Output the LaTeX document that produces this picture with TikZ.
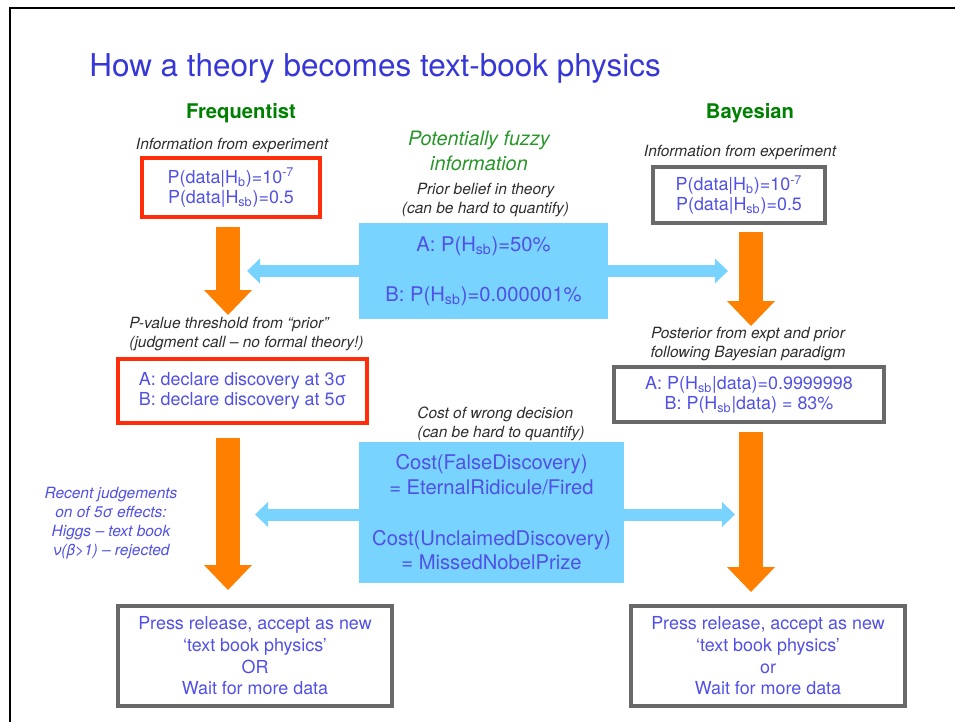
\documentclass[tikz,border=0pt]{standalone}
\usepackage{fontspec}
\setmainfont{TeX Gyre Heros}
\usetikzlibrary{arrows.meta}

\definecolor{titleblue}{RGB}{55,55,215}
\definecolor{textblue}{RGB}{80,80,230}
\definecolor{capgray}{RGB}{45,45,45}
\definecolor{headgreen}{RGB}{0,128,0}
\definecolor{fuzzygreen}{RGB}{40,150,40}
\definecolor{boxred}{RGB}{255,45,10}
\definecolor{boxgray}{RGB}{105,105,105}
\definecolor{skyfill}{RGB}{120,212,255}
\definecolor{arrorange}{RGB}{255,128,0}

\begin{document}
\begin{tikzpicture}[x=0.02cm, y=-0.02cm,
  title/.style={text=titleblue, inner sep=0pt, font=\fontsize{17.9}{20}\selectfont},
  head/.style={text=headgreen, inner sep=0pt, font=\fontsize{11.5}{13}\selectfont\bfseries},
  caption/.style={text=capgray, inner sep=0pt, align=center, font=\fontsize{8.8}{10.8}\selectfont\itshape},
  fuzzy/.style={text=fuzzygreen, inner sep=0pt, align=center, font=\fontsize{11.3}{14.2}\selectfont\itshape},
  sidenote/.style={text=textblue, inner sep=0pt, align=center, font=\fontsize{8.8}{10.8}\selectfont\itshape},
  redbox/.style={draw=boxred, line width=0.07cm, text=textblue, align=center, font=\fontsize{10.2}{11.3}\selectfont},
  graybox/.style={draw=boxgray, line width=0.09cm, text=textblue, align=center, font=\fontsize{10.2}{11.3}\selectfont},
  bluebox/.style={fill=skyfill, text=textblue, align=center},
  fatarrow/.style={draw=arrorange, line width=0.48cm, -{Triangle[width=0.96cm, length=0.5cm, line width=0pt]}},
  thinarrow/.style={draw=skyfill, line width=0.24cm, {Triangle[width=0.5cm, length=0.26cm, line width=0pt]}-{Triangle[width=0.5cm, length=0.26cm, line width=0pt]}}]

  \useasboundingbox (0,0) rectangle (955,722);
  \draw[line width=0.04cm] (10,722) -- (10,8) -- (955,8);

  \node[title, anchor=base west] (title) at (89,77) {How a theory becomes text-book physics};

  \node[head] (freqhead) at (241,113) {Frequentist};
  \node[head] (bayeshead) at (750,113) {Bayesian};

  \node[caption] (freqinfo) at (232,145) {Information from experiment};
  \node[redbox, minimum width=3.56cm, minimum height=1.18cm] (freqdata) at (231,187.5)
    {P(data|H\textsubscript{b})=10\textsuperscript{-7}\\P(data|H\textsubscript{sb})=0.5};

  \node[caption] (bayesinfo) at (740,152) {Information from experiment};
  \node[graybox, minimum width=3.44cm, minimum height=1.12cm] (bayesdata) at (739,195)
    {P(data|H\textsubscript{b})=10\textsuperscript{-7}\\P(data|H\textsubscript{sb})=0.5};

  \node[fuzzy] (fuzzy) at (479,150.5) {Potentially fuzzy\\information};
  \node[caption] (priorcap) at (485.5,200.5) {Prior belief in theory\\(can be hard to quantify)};

  \coordinate (pa1) at (247,271);
  \coordinate (pa2) at (728,271);
  \draw[thinarrow] (pa1) -- (pa2);
  \node[bluebox, minimum width=4.98cm, minimum height=1.92cm,
    font=\fontsize{11.5}{28.3}\selectfont] (prior) at (483.5,271)
    {A: P(H\textsubscript{sb})=50\%\\B: P(H\textsubscript{sb})=0.000001\%};

  \coordinate (fa1) at (228,227);
  \coordinate (fa1tip) at (228,315);
  \draw[fatarrow] (fa1) -- (fa1tip);
  \coordinate (ba1) at (751,232);
  \coordinate (ba1tip) at (751,326);
  \draw[fatarrow] (ba1) -- (ba1tip);

  \node[caption, align=left, anchor=west] (pvalcap) at (129,334.5)
    {P-value threshold from “prior”\\(judgment call – no formal theory!)};
  \node[redbox, minimum width=4.98cm, minimum height=1.28cm] (freqdecide) at (242.5,391)
    {A: declare discovery at 3σ\\B: declare discovery at 5σ};

  \node[caption] (postcap) at (748,344) {Posterior from expt and prior\\following Bayesian paradigm};
  \node[graybox, minimum width=5.4cm, minimum height=1.1cm] (posterior) at (749,394.5)
    {A: P(H\textsubscript{sb}|data)=0.9999998\\B: P(H\textsubscript{sb}|data) = 83\%};

  \node[caption, align=left, anchor=west] (costcap) at (417,424)
    {Cost of wrong decision\\(can be hard to quantify)};

  \coordinate (ca1) at (255,514.5);
  \coordinate (ca2) at (735,514.5);
  \draw[thinarrow] (ca1) -- (ca2);
  \node[bluebox, minimum width=5.3cm, minimum height=2.82cm,
    font=\fontsize{11.5}{14}\selectfont] (cost) at (491.5,512.5)
    {Cost(FalseDiscovery)\\= EternalRidicule/Fired\\[15pt]Cost(UnclaimedDiscovery)\\= MissedNobelPrize};

  \coordinate (fa2) at (228,438);
  \coordinate (fa2tip) at (228,590);
  \draw[fatarrow] (fa2) -- (fa2tip);
  \coordinate (ba2) at (751,432);
  \coordinate (ba2tip) at (751,592);
  \draw[fatarrow] (ba2) -- (ba2tip);

  \node[sidenote] (recent) at (111,523.5)
    {Recent judgements\\on of 5σ effects:\\Higgs – text book\\ν(β>1) – rejected};

  \node[graybox, minimum width=5.48cm, minimum height=2cm,
    font=\fontsize{10.2}{12.3}\selectfont] (freqend) at (255,656)
    {Press release, accept as new\\‘text book physics’\\OR\\Wait for more data};
  \node[graybox, minimum width=5.48cm, minimum height=2cm,
    font=\fontsize{10.2}{12.3}\selectfont] (bayesend) at (768,656)
    {Press release, accept as new\\‘text book physics’\\or\\Wait for more data};

\end{tikzpicture}
\end{document}
